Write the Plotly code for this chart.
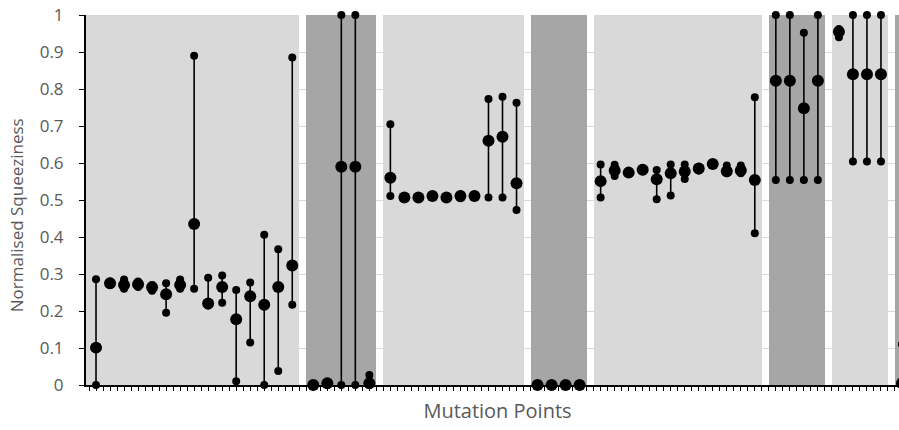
import plotly.graph_objects as go

# Squeeziness per mutation point: minimum, mean and maximum
sq_min = [
    0.000, 0.270, 0.260, 0.265, 0.255, 0.195, 0.260, 0.260, 0.215, 0.222, 0.010, 0.115, 0.000, 0.038, 0.217,
    0.000, 0.000, 0.000, 0.000, 0.000,
    0.511, 0.505, 0.505, 0.508, 0.505, 0.505, 0.508, 0.507, 0.507, 0.473,
    0.000, 0.000, 0.000, 0.000,
    0.507, 0.565, 0.570, 0.578, 0.502, 0.512, 0.557, 0.580, 0.594, 0.572, 0.572, 0.410,
    0.554, 0.554, 0.554, 0.554,
    0.940, 0.604, 0.604, 0.604,
    0.000,
]
sq_mean = [
    0.101, 0.275, 0.270, 0.272, 0.264, 0.245, 0.270, 0.435, 0.220, 0.265, 0.178, 0.240, 0.217, 0.265, 0.323,
    0.000, 0.005, 0.590, 0.590, 0.005,
    0.560, 0.507, 0.507, 0.511, 0.507, 0.511, 0.511, 0.660, 0.671, 0.545,
    0.000, 0.000, 0.000, 0.000,
    0.551, 0.580, 0.574, 0.582, 0.556, 0.572, 0.577, 0.585, 0.597, 0.578, 0.580, 0.554,
    0.822, 0.822, 0.748, 0.822,
    0.955, 0.840, 0.840, 0.840,
    0.005,
]
sq_max = [
    0.286, 0.280, 0.285, 0.280, 0.270, 0.275, 0.285, 0.890, 0.290, 0.296, 0.257, 0.277, 0.406, 0.367, 0.885,
    0.000, 0.008, 1.000, 1.000, 0.027,
    0.705, 0.510, 0.510, 0.514, 0.510, 0.515, 0.514, 0.773, 0.779, 0.763,
    0.000, 0.000, 0.000, 0.000,
    0.596, 0.595, 0.578, 0.586, 0.581, 0.596, 0.596, 0.590, 0.600, 0.593, 0.593, 0.778,
    1.000, 1.000, 0.952, 1.000,
    0.962, 1.000, 1.000, 1.000,
    0.110,
]

# Mutation points are grouped; groups are shaded alternately
group_sizes = [15, 5, 10, 4, 12, 4, 4, 1]
group_shades = ["light", "dark", "light", "dark", "light", "dark", "light", "dark"]
shade_colors = {"light": "#d9d9d9", "dark": "#a6a6a6"}

y_ticks = [0, 0.1, 0.2, 0.3, 0.4, 0.5, 0.6, 0.7, 0.8, 0.9, 1]
x_range = [-1.43, 116.0]

# Each point takes two slots on the axis, with one empty slot between groups
xs = []
band_x, band_w, band_c = [], [], []
start = 0
for g, (n, shade) in enumerate(zip(group_sizes, group_shades)):
    pts = [start + 2 * i for i in range(n)]
    xs.extend(pts)
    left = start - 1 if g > 0 else x_range[0] - 1
    right = start + 2 * n - 1
    band_x.append((left + right) / 2)
    band_w.append(right - left)
    band_c.append(shade_colors[shade])
    start = start + 2 * n + 1

fig = go.Figure()

fig.add_trace(go.Bar(
    x=band_x, y=[1] * len(band_x), width=band_w,
    marker=dict(color=band_c, line=dict(width=0)),
    hoverinfo="skip", showlegend=False,
))

# Range lines from min to max
line_x, line_y = [], []
for x, lo, hi in zip(xs, sq_min, sq_max):
    line_x += [x, x, None]
    line_y += [lo, hi, None]
fig.add_trace(go.Scatter(
    x=line_x, y=line_y, mode="lines",
    line=dict(color="black", width=1.6),
    showlegend=False, hoverinfo="skip", cliponaxis=False,
))

fig.add_trace(go.Scatter(
    x=xs + xs, y=sq_min + sq_max, mode="markers",
    marker=dict(color="black", size=8),
    showlegend=False, cliponaxis=False,
))
fig.add_trace(go.Scatter(
    x=xs, y=sq_mean, mode="markers",
    marker=dict(color="black", size=12),
    showlegend=False, cliponaxis=False,
))

fig.update_layout(
    width=909, height=430,
    margin=dict(l=86, r=0, t=15, b=45),
    paper_bgcolor="white", plot_bgcolor="white",
    font=dict(family="Open Sans", color="#595959", size=17),
    bargap=0,
)
fig.update_xaxes(
    range=x_range, tickmode="linear", tick0=0, dtick=1,
    ticks="outside", ticklen=4, tickwidth=1, tickcolor="black",
    showticklabels=False, showline=True, linecolor="black", linewidth=2,
    showgrid=False, zeroline=False,
    title=dict(text="Mutation Points", font=dict(size=20, color="#595959"), standoff=14),
)
fig.update_yaxes(
    range=[0, 1], tickmode="array", tickvals=y_ticks,
    ticktext=[f"{v:g}" for v in y_ticks],
    ticks="outside", ticklen=5, tickwidth=1, tickcolor="black",
    ticklabelstandoff=12,
    showline=True, linecolor="black", linewidth=2,
    showgrid=True, gridcolor="#d9d9d9", gridwidth=1, zeroline=False,
    tickfont=dict(size=17, color="#595959"),
)
fig.add_annotation(
    text="Normalised Squeeziness", textangle=-90,
    xref="paper", yref="paper", x=-0.0836, y=0.4595,
    xanchor="center", yanchor="middle", showarrow=False,
    font=dict(size=17, color="#595959"),
)

# The chart runs slightly past the right edge of the page; hide the overflow
fig.write_html("out.html", post_script="document.body.style.overflow='hidden';")
